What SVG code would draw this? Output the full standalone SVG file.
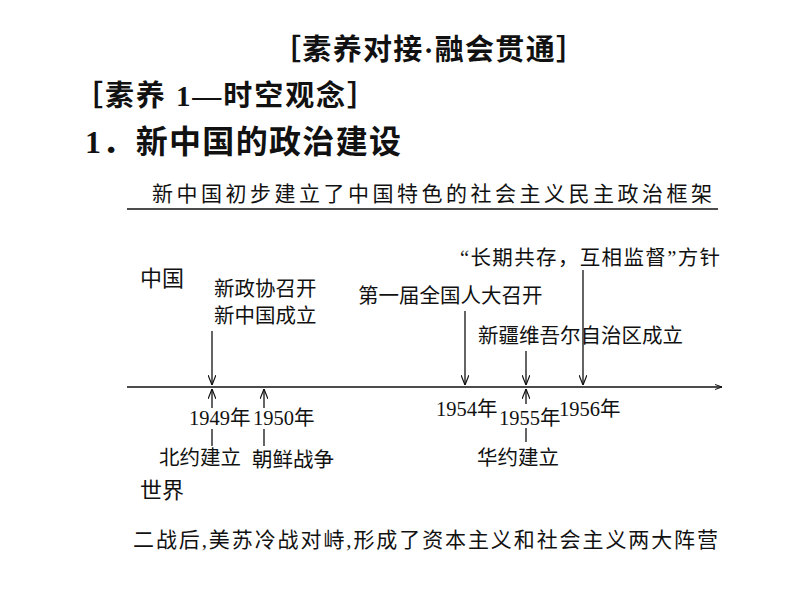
<svg xmlns="http://www.w3.org/2000/svg" width="794" height="596" viewBox="0 0 794 596">
<style>
text{font-family:"Liberation Serif","Noto Sans CJK SC",serif;fill:#111}
.h{font-weight:bold}
.t{font-size:21px}
.s{font-size:20.5px}
.y{font-size:20.5px}
line{stroke:#111;stroke-width:1.3}
</style>
<defs><marker id="a" markerWidth="10" markerHeight="8" refX="10" refY="4" orient="auto" markerUnits="userSpaceOnUse"><path d="M0,0 L10,4 L0,8" fill="none" stroke="#111" stroke-width="1.2"/></marker>
<marker id="b" markerWidth="8" markerHeight="8" refX="7" refY="4" orient="auto" markerUnits="userSpaceOnUse"><path d="M0,1.5 L7,4 L0,6.5" fill="none" stroke="#111"/></marker></defs>
<rect width="794" height="596" fill="#fff"/>
<text class="h" x="272" y="60" font-size="29" textLength="313">［素养对接·融会贯通］</text>
<text class="h" x="74" y="106" font-size="29" textLength="302">［素养 1—时空观念］</text>
<text class="h" x="85" y="153" font-size="32" textLength="316">1．新中国的政治建设</text>
<text class="t" x="152" y="201" textLength="560">新中国初步建立了中国特色的社会主义民主政治框架</text>
<line x1="127" y1="209" x2="718" y2="209"/>
<g id="labels">
<text x="140" y="286" font-size="22">中国</text>
<text class="s" x="214" y="296">新政协召开</text>
<text class="s" x="214" y="323">新中国成立</text>
<text class="s" x="358" y="303">第一届全国人大召开</text>
<text class="s" x="460" y="265" textLength="260">“长期共存，互相监督”方针</text>
<text class="s" x="478" y="343">新疆维吾尔自治区成立</text>
<text class="y" x="189" y="425">1949年</text>
<text class="y" x="253" y="425">1950年</text>
<text class="y" x="436" y="416">1954年</text>
<text class="y" x="499" y="425">1955年</text>
<text class="y" x="559" y="416">1956年</text>
<text class="s" x="159" y="465">北约建立</text>
<text class="s" x="252" y="467">朝鲜战争</text>
<text class="s" x="477" y="465">华约建立</text>
<text x="140" y="498" font-size="22">世界</text>
</g>
<g id="connectors">
<line x1="127" y1="387" x2="722" y2="387" marker-end="url(#b)"/>
<line x1="212" y1="331" x2="212" y2="385" marker-end="url(#a)"/>
<line x1="465" y1="311" x2="465" y2="385" marker-end="url(#a)"/>
<line x1="526" y1="351" x2="526" y2="385" marker-end="url(#a)"/>
<line x1="583" y1="270" x2="583" y2="385" marker-end="url(#a)"/>
<line x1="212" y1="408" x2="212" y2="389" marker-end="url(#a)"/>
<line x1="264" y1="408" x2="264" y2="389" marker-end="url(#a)"/>
<line x1="526" y1="404" x2="526" y2="389" marker-end="url(#a)"/>
<line x1="212" y1="429" x2="212" y2="446"/>
<line x1="264" y1="429" x2="264" y2="446"/>
<line x1="526" y1="428" x2="526" y2="442"/>
</g>
<text class="t" x="133" y="547" textLength="585">二战后,美苏冷战对峙,形成了资本主义和社会主义两大阵营</text>
</svg>
